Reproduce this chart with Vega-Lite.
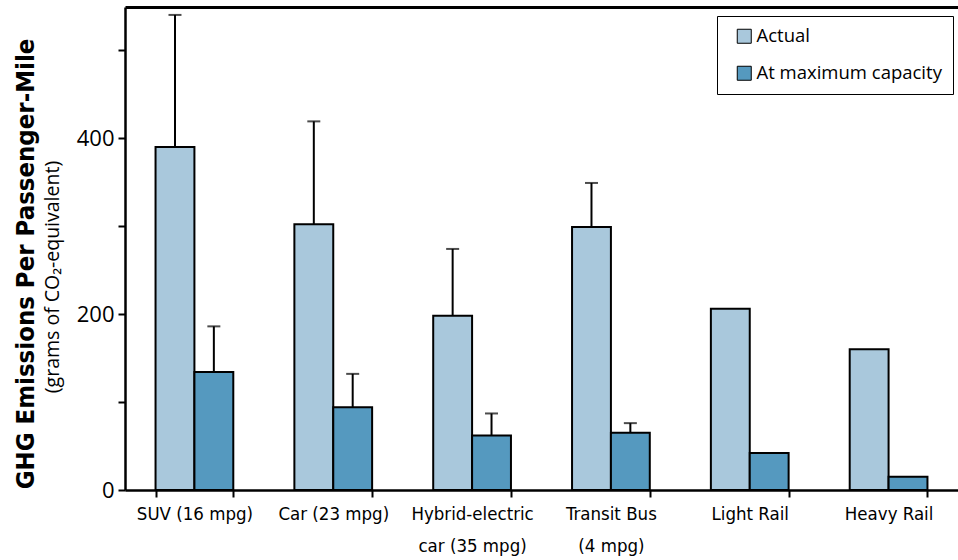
{
  "$schema": "https://vega.github.io/schema/vega-lite/v6.json",
  "width": 833,
  "height": 483,
  "autosize": "none",
  "padding": {"left": 125, "top": 7, "right": 0, "bottom": 70},
  "background": "white",
  "config": {"view": {"stroke": null}, "font": "Open Sans"},
  "data": {
    "values": [
      {"category": "SUV (16 mpg)", "series": "Actual", "value": 390, "upper": 540},
      {"category": "SUV (16 mpg)", "series": "At maximum capacity", "value": 134, "upper": 186},
      {"category": "Car (23 mpg)", "series": "Actual", "value": 302, "upper": 419},
      {"category": "Car (23 mpg)", "series": "At maximum capacity", "value": 94, "upper": 132},
      {"category": "Hybrid-electric car (35 mpg)", "series": "Actual", "value": 198, "upper": 274},
      {"category": "Hybrid-electric car (35 mpg)", "series": "At maximum capacity", "value": 62, "upper": 87},
      {"category": "Transit Bus (4 mpg)", "series": "Actual", "value": 299, "upper": 349},
      {"category": "Transit Bus (4 mpg)", "series": "At maximum capacity", "value": 65, "upper": 76},
      {"category": "Light Rail", "series": "Actual", "value": 206, "upper": null},
      {"category": "Light Rail", "series": "At maximum capacity", "value": 42, "upper": null},
      {"category": "Heavy Rail", "series": "Actual", "value": 160, "upper": null},
      {"category": "Heavy Rail", "series": "At maximum capacity", "value": 15, "upper": null}
    ]
  },
  "layer": [
    {
      "mark": {"type": "bar", "stroke": "black", "strokeWidth": 2},
      "encoding": {
        "xOffset": {"field": "series", "type": "nominal"},
        "x": {
          "field": "category", "type": "nominal",
          "sort": ["SUV (16 mpg)", "Car (23 mpg)", "Hybrid-electric car (35 mpg)", "Transit Bus (4 mpg)", "Light Rail", "Heavy Rail"],
          "scale": {"paddingInner": 0.44, "paddingOuter": 0.22},
          "axis": {
            "title": null, "orient": "bottom",
            "domainColor": "black", "domainWidth": 2.5,
            "tickColor": "black", "tickWidth": 2, "tickSize": 7, "tickBand": "extent",
            "labelAngle": 0, "labelFont": "Liberation Sans Narrow, DejaVu Sans Condensed, Roboto Condensed, Roboto, sans-serif", "labelFontSize": 18.5,
            "labelColor": "black", "labelPadding": 7, "labelLineHeight": 32,
            "labelExpr": "datum.value == 'Hybrid-electric car (35 mpg)' ? ['Hybrid-electric', 'car (35 mpg)'] : datum.value == 'Transit Bus (4 mpg)' ? ['Transit Bus', '(4 mpg)'] : datum.label"
          }
        },
        "y": {
          "field": "value", "type": "quantitative",
          "scale": {"domain": [0, 549], "nice": false},
          "axis": {
            "orient": "left", "grid": false,
            "values": [0, 100, 200, 300, 400, 500],
            "labelExpr": "datum.value % 200 == 0 ? datum.label : ''",
            "domainColor": "black", "domainWidth": 2.5,
            "tickColor": "black", "tickWidth": 2, "tickSize": 7,
            "labelFont": "Open Sans", "labelFontSize": 22, "labelColor": "black", "labelPadding": 4,
            "title": "(grams of CO₂-equivalent)",
            "titleFont": "Open Sans", "titleFontWeight": "normal", "titleFontSize": 19.5, "titleColor": "black",
            "titleX": -67, "titleY": 269.5, "titleAlign": "center", "titleBaseline": "alphabetic", "titleAngle": 270
          }
        },
        "color": {
          "field": "series", "type": "nominal",
          "scale": {"domain": ["Actual", "At maximum capacity"], "range": ["#a9c8dc", "#5599bf"]},
          "legend": {
            "title": null, "orient": "none", "legendX": 592, "legendY": 9,
            "strokeColor": "black", "fillColor": "white", "padding": 11,
            "symbolType": "square", "symbolSize": 196, "symbolStrokeColor": "black", "symbolStrokeWidth": 1,
            "symbolOffset": 7, "labelOffset": 3, "labelFontSize": 18.5, "labelFont": "Open Sans", "labelLimit": 400,
            "labelColor": "black", "rowPadding": 18
          }
        }
      }
    },
    {
      "transform": [{"filter": "datum.upper != null"}],
      "mark": {"type": "rule", "strokeWidth": 2, "color": "black"},
      "encoding": {
        "xOffset": {"field": "series", "type": "nominal"},
        "x": {
          "field": "category", "type": "nominal",
          "sort": ["SUV (16 mpg)", "Car (23 mpg)", "Hybrid-electric car (35 mpg)", "Transit Bus (4 mpg)", "Light Rail", "Heavy Rail"],
          "axis": {"orient": "top", "title": null, "labels": false, "ticks": false, "domainColor": "black", "domainWidth": 3}
        },
        "y": {
          "field": "value", "type": "quantitative",
          "axis": {
            "orient": "left", "grid": false, "labels": false, "ticks": false, "domain": false,
            "title": "GHG Emissions Per Passenger-Mile",
            "titleFont": "Liberation Sans Narrow, DejaVu Sans Condensed, Roboto Condensed, Roboto, sans-serif", "titleFontWeight": "bold", "titleFontSize": 25.5, "titleColor": "black",
            "titleX": -92, "titleY": 256.5, "titleAlign": "center", "titleBaseline": "alphabetic", "titleAngle": 270
          }
        },
        "y2": {"field": "upper"}
      }
    },
    {
      "transform": [{"filter": "datum.upper != null"}],
      "mark": {"type": "tick", "orient": "horizontal", "size": 13, "thickness": 2, "color": "black"},
      "encoding": {
        "xOffset": {"field": "series", "type": "nominal"},
        "x": {
          "field": "category", "type": "nominal",
          "sort": ["SUV (16 mpg)", "Car (23 mpg)", "Hybrid-electric car (35 mpg)", "Transit Bus (4 mpg)", "Light Rail", "Heavy Rail"],
          "axis": null
        },
        "y": {"field": "upper", "type": "quantitative", "axis": null}
      }
    }
  ],
  "resolve": {"axis": {"x": "independent", "y": "independent"}}
}
